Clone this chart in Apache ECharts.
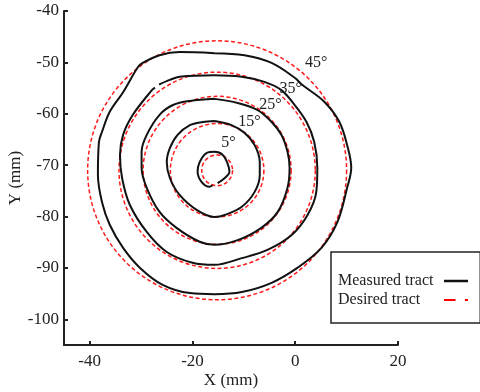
<!DOCTYPE html>
<html><head><meta charset="utf-8">
<script src="https://cdn.jsdelivr.net/npm/echarts@6/dist/echarts.min.js"></script>
<style>html,body{margin:0;padding:0;background:#fff}#c{width:480px;height:392px}</style>
</head><body><div id="c"></div>
<script>
// ---- data ----
const xTicks = [-40, -20, 0, 20];
const yTicks = [-100, -90, -80, -70, -60, -50, -40];
const angleLabels = ['5°', '15°', '25°', '35°', '45°'];
const angleLabelPos = [[-13.0, -65.7], [-8.9, -61.6], [-4.8, -58.3], [-0.9, -55.2], [4.1, -50.1]];
const desiredCenterX = -15.2;
const desiredCenterY = -71.0;
const desiredRadii = [3.0, 9.1, 14.4, 19.1, 25.2];

const measured5 = [[-15.1,-73.5],[-13.7,-72.5],[-12.8,-71.3],[-13.2,-69.6],[-14.1,-68.0],[-15.7,-67.4],[-17.2,-67.6],[-18.6,-69.4],[-19.0,-71.3],[-18.2,-73.3],[-16.7,-74.2],[-16.1,-73.9]];
const measured15 = [[-15.7,-61.4],[-12.4,-62.2],[-9.9,-63.7],[-7.9,-66.1],[-6.9,-69.4],[-6.9,-71.9],[-7.9,-75.2],[-10.4,-78.1],[-13.7,-79.7],[-15.7,-80.1],[-19.2,-78.7],[-22.5,-75.8],[-24.4,-72.5],[-25.0,-69.4],[-24.4,-66.7],[-22.9,-64.1],[-20.5,-62.2],[-18.0,-61.6],[-15.7,-61.4]];
const measured25 = [[-15.7,-57.1],[-11.2,-57.9],[-7.3,-59.3],[-4.6,-61.6],[-2.7,-64.1],[-1.5,-67.4],[-1.1,-70.5],[-1.5,-74.4],[-3.4,-79.1],[-6.6,-82.2],[-11.2,-84.6],[-15.7,-85.5],[-18.6,-84.9],[-23.1,-82.2],[-26.4,-79.1],[-28.9,-74.4],[-29.9,-70.5],[-29.9,-67.4],[-28.9,-64.1],[-26.4,-60.2],[-23.8,-58.3],[-20.5,-57.5],[-15.7,-57.1]];
const measured35 = [[-26.5,-54.3],[-24.4,-53.4],[-22.5,-52.8],[-15.7,-52.5],[-10.4,-52.8],[-6.0,-53.8],[-2.7,-55.4],[-0.1,-58.3],[2.2,-61.6],[3.7,-65.5],[4.3,-70.5],[4.1,-75.2],[2.4,-79.7],[-0.7,-83.6],[-5.4,-86.5],[-10.4,-88.1],[-15.7,-89.4],[-20.0,-89.0],[-25.0,-86.9],[-28.9,-83.0],[-32.2,-77.7],[-33.7,-72.5],[-34.1,-68.0],[-33.5,-64.1],[-31.6,-60.2],[-27.9,-55.4],[-27.3,-54.9]];
const measured45 = [[-15.7,-48.2],[-9.9,-48.6],[-4.6,-50.1],[-0.1,-53.0],[1.4,-54.4],[5.7,-57.7],[8.6,-61.6],[10.1,-66.1],[10.9,-70.5],[10.1,-74.4],[8.2,-81.1],[5.1,-86.1],[0.4,-90.0],[-4.6,-92.9],[-10.4,-94.7],[-15.7,-95.1],[-20.5,-94.9],[-25.8,-93.3],[-30.2,-90.0],[-33.5,-86.1],[-36.1,-81.6],[-37.6,-77.2],[-38.4,-71.9],[-38.2,-65.5],[-37.6,-63.5],[-36.1,-59.6],[-33.5,-55.8],[-30.6,-50.9],[-29.7,-50.1],[-26.4,-48.6],[-22.5,-48.0],[-15.7,-48.2]];
const measuredTracts = [measured5, measured15, measured25, measured35, measured45];

// ---- chart ----
const FONT = "'Liberation Serif','Times New Roman',serif";
const INK = '#222';
const chart = echarts.init(document.getElementById('c'), null, {renderer: 'canvas'});

const series = measuredTracts.map(d => ({
  type: 'line', name: 'Measured tract', data: d,
  showSymbol: false, symbol: 'none', silent: true, smooth: 0.35,
  lineStyle: {color: '#111', width: 2}, itemStyle: {color: '#111'},
  z: 3
}));
series.push({
  type: 'custom', name: 'Desired tract', silent: true,
  data: desiredRadii.map(r => [desiredCenterX, desiredCenterY, r]),
  encode: {x: 0, y: 1},
  itemStyle: {color: '#ff0000'},
  z: 2,
  renderItem: function (params, api) {
    const c = api.coord([api.value(0), api.value(1)]);
    const s = api.size([api.value(2), api.value(2)]);
    return {
      type: 'circle',
      shape: {cx: c[0], cy: c[1], r: s[0]},
      style: {fill: 'none', stroke: '#ff1a1a', lineWidth: 1.5, lineDash: [4, 2.5]}
    };
  }
});
series.push({
  type: 'scatter', name: 'angles', silent: true, symbolSize: 0,
  data: angleLabelPos,
  itemStyle: {opacity: 1},
  label: {
    show: true, position: 'inside', opacity: 1,
    formatter: p => angleLabels[p.dataIndex],
    fontFamily: FONT, fontSize: 16, color: INK
  },
  z: 4
});

chart.setOption({
  animation: false,
  backgroundColor: '#fff',
  grid: {left: 64, right: 82, top: 11, bottom: 47, containLabel: false, outerBoundsMode: 'none'},
  xAxis: {
    type: 'value', min: -45, max: 20,
    name: 'X (mm)', nameLocation: 'middle', nameGap: 27, nameMoveOverlap: false,
    nameTextStyle: {fontFamily: FONT, fontSize: 17, color: INK},
    axisLine: {show: true, onZero: false, lineStyle: {color: INK, width: 2}},
    axisTick: {show: true, inside: true, length: 4, customValues: xTicks, lineStyle: {color: INK, width: 2}},
    axisLabel: {customValues: xTicks, fontFamily: FONT, fontSize: 17, color: INK, margin: 8},
    splitLine: {show: false}
  },
  yAxis: {
    type: 'value', min: -105, max: -40,
    name: 'Y (mm)', nameLocation: 'middle', nameGap: 40, nameMoveOverlap: false,
    nameTextStyle: {fontFamily: FONT, fontSize: 17, color: INK},
    axisLine: {show: true, onZero: false, lineStyle: {color: INK, width: 2}},
    axisTick: {show: true, inside: true, length: 4, customValues: yTicks, lineStyle: {color: INK, width: 2}},
    axisLabel: {customValues: yTicks, fontFamily: FONT, fontSize: 17, color: INK, margin: 5},
    splitLine: {show: false}
  },
  legend: {
    show: true, orient: 'vertical', align: 'right',
    left: 331, top: 252,
    padding: [20, 11, 14, 7],
    itemGap: 1, itemWidth: 24, itemHeight: 2.5,
    selectedMode: false,
    borderColor: INK, borderWidth: 1.5,
    backgroundColor: '#fff',
    formatter: '{t|{name}}',
    textStyle: {
      fontFamily: FONT, fontSize: 16, color: INK, lineHeight: 18,
      rich: {t: {width: 101, align: 'left', fontFamily: FONT, fontSize: 16, color: INK, lineHeight: 18}}
    },
    data: [
      {name: 'Measured tract', itemStyle: {color: '#111'}, lineStyle: {color: '#111', width: 2.5}},
      {name: 'Desired tract', icon: 'path://M0,0H11V2H0Z M20,0H23V2H20Z', itemStyle: {color: '#ff0000'}}
    ]
  },
  series: series
});
</script>
</body></html>
